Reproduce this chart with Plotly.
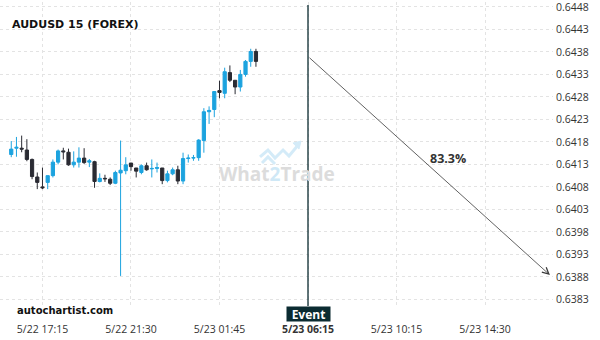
import pandas as pd
import plotly.graph_objects as go

# ---------------- data ----------------
title_text = "AUDUSD 15 (FOREX)"
bar_start = "2023-05-22 15:45"
bar_count = 48
open_ = [0.64152, 0.64166, 0.64166, 0.64162, 0.64141, 0.64102, 0.64080, 0.64090, 0.64105, 0.64135,
         0.64160, 0.64157, 0.64129, 0.64135, 0.64144, 0.64135, 0.64136, 0.64092, 0.64099, 0.64097,
         0.64088, 0.64111, 0.64116, 0.64133, 0.64122, 0.64112, 0.64127, 0.64120, 0.64121, 0.64122,
         0.64094, 0.64109, 0.64118, 0.64093, 0.64143, 0.64144, 0.64145, 0.64183, 0.64247, 0.64252,
         0.64294, 0.64288, 0.64334, 0.64317, 0.64302, 0.64330, 0.64359, 0.64381]
high = [0.64182, 0.64191, 0.64194, 0.64186, 0.64143, 0.64112, 0.64123, 0.64105, 0.64141, 0.64163,
        0.64167, 0.64165, 0.64159, 0.64168, 0.64166, 0.64142, 0.64138, 0.64110, 0.64107, 0.64101,
        0.64116, 0.64183, 0.64146, 0.64133, 0.64122, 0.64130, 0.64134, 0.64141, 0.64134, 0.64122,
        0.64116, 0.64123, 0.64127, 0.64156, 0.64152, 0.64151, 0.64186, 0.64255, 0.64259, 0.64292,
        0.64316, 0.64345, 0.64350, 0.64317, 0.64340, 0.64362, 0.64387, 0.64387]
low = [0.64146, 0.64147, 0.64157, 0.64137, 0.64097, 0.64075, 0.64075, 0.64075, 0.64101, 0.64130,
       0.64141, 0.64127, 0.64123, 0.64123, 0.64131, 0.64124, 0.64078, 0.64090, 0.64091, 0.64084,
       0.64086, 0.63882, 0.64108, 0.64116, 0.64101, 0.64108, 0.64116, 0.64101, 0.64112, 0.64086,
       0.64090, 0.64106, 0.64086, 0.64086, 0.64134, 0.64138, 0.64138, 0.64156, 0.64220, 0.64235,
       0.64277, 0.64277, 0.64313, 0.64286, 0.64292, 0.64325, 0.64347, 0.64347]
close = [0.64164, 0.64168, 0.64164, 0.64141, 0.64103, 0.64090, 0.64078, 0.64105, 0.64135, 0.64160,
         0.64158, 0.64129, 0.64135, 0.64144, 0.64134, 0.64138, 0.64092, 0.64099, 0.64098, 0.64088,
         0.64112, 0.64117, 0.64129, 0.64125, 0.64115, 0.64127, 0.64118, 0.64121, 0.64123, 0.64094,
         0.64109, 0.64118, 0.64093, 0.64143, 0.64144, 0.64145, 0.64184, 0.64247, 0.64250, 0.64292,
         0.64290, 0.64336, 0.64317, 0.64302, 0.64330, 0.64359, 0.64381, 0.64359]

x_range = ["2023-05-22 15:12:36", "2023-05-23 17:45:54"]
y_range = [0.638152, 0.644910]
y_ticks = [0.6383, 0.6388, 0.6393, 0.6398, 0.6403, 0.6408, 0.6413,
           0.6418, 0.6423, 0.6428, 0.6433, 0.6438, 0.6443, 0.6448]
x_tick_times = ["2023-05-22 17:15", "2023-05-22 21:30", "2023-05-23 01:45",
                "2023-05-23 06:00", "2023-05-23 10:15", "2023-05-23 14:30"]
x_tick_labels = ["5/22 17:15", "5/22 21:30", "5/23 01:45",
                 "<b>5/23 06:15</b>", "5/23 10:15", "5/23 14:30"]

event_time = "2023-05-23 06:00"
event_price = 0.64370
target_time = "2023-05-23 17:37"
target_price = 0.63884
probability_label = "83.3%"

# ---------------- figure ----------------
times = pd.date_range(bar_start, periods=bar_count, freq="15min")

BLUE = "#1ca3df"
DARK = "#2a2b33"
EVENT = "#0b2b31"

fig = go.Figure()
fig.add_trace(go.Candlestick(
    x=times, open=open_, high=high, low=low, close=close,
    increasing=dict(line=dict(color=BLUE, width=1), fillcolor=BLUE),
    decreasing=dict(line=dict(color=DARK, width=1), fillcolor=DARK),
    whiskerwidth=0, hoverinfo="skip", showlegend=False,
))

grid = dict(showgrid=True, gridcolor="#e3e3e3", gridwidth=1, griddash="3px,3px",
            zeroline=False, showline=False)

fig.update_layout(
    width=600, height=340,
    margin=dict(l=0, r=47, t=0, b=34),
    paper_bgcolor="white", plot_bgcolor="white",
    boxgap=0.12,
    font=dict(family="Open Sans", size=10.5, color="#333333"),
    xaxis=dict(type="date", range=x_range, rangeslider=dict(visible=False),
               tickmode="array", tickvals=x_tick_times, ticktext=x_tick_labels,
               ticks="", ticklabelstandoff=15, **grid),
    yaxis=dict(side="right", range=y_range, tickmode="array", tickvals=y_ticks,
               tickformat=".4f", ticks="", ticklabelstandoff=2,
               ticklabeloverflow="allow", **grid),
)

# event line
fig.add_shape(type="line", xref="x", yref="paper", x0=event_time, x1=event_time,
              y0=0, y1=0.99, line=dict(color=EVENT, width=1.3))

# forecast arrow
fig.add_annotation(x=target_time, y=target_price, ax=event_time, ay=event_price,
                   xref="x", yref="y", axref="x", ayref="y", text="",
                   showarrow=True, arrowhead=5, arrowsize=1.6, arrowwidth=0.8,
                   arrowcolor="#3a3a3a", standoff=0)
fig.add_annotation(x=448 / 553, y=1 - 158 / 306, xref="paper", yref="paper",
                   xanchor="center", yanchor="middle",
                   text="<b>" + probability_label + "</b>", showarrow=False,
                   font=dict(family="Open Sans", size=12.5, color="#333333"))

# title & branding
fig.add_annotation(x=10 / 553, y=1 - 14 / 306, xref="paper", yref="paper", xanchor="left",
                   text="<b>" + title_text + "</b>", showarrow=False,
                   font=dict(family="DejaVu Sans", size=11, color="#111111"))
fig.add_annotation(x=15 / 553, y=-5 / 306, xref="paper", yref="paper", xanchor="left",
                   yanchor="middle", text="<b>autochartist.com</b>", showarrow=False,
                   font=dict(family="DejaVu Sans", size=10, color="#111111"))
fig.add_annotation(x=event_time, y=0, xref="x", yref="paper", yanchor="top",
                   xanchor="center", width=41, height=12,
                   text="<b>Event</b>", showarrow=False, bgcolor=EVENT,
                   borderpad=1, font=dict(family="Open Sans", size=12, color="white"))

# watermark
fig.add_annotation(x=277 / 553, y=1 - 173 / 306, xref="paper", yref="paper",
                   xanchor="center", yanchor="middle",
                   text="<b>What<span style='color:#cfe8f6'>2</span>Trade</b>",
                   showarrow=False, font=dict(family="Open Sans", size=19, color="#dcdcdc"))

def px(xp, yp):
    return f"{xp / 553:.4f},{1 - yp / 306:.4f}"

logo = ("M " + px(260, 156) + " L " + px(268, 149) + " L " + px(275, 157) + " L " +
        px(283, 149) + " L " + px(289, 155) + " L " + px(299, 143))
fig.add_shape(type="path", xref="paper", yref="paper", path=logo,
              line=dict(color="#d4ebf8", width=3))
logo2 = ("M " + px(262, 162) + " L " + px(268, 156) + " L " + px(275, 163))
fig.add_shape(type="path", xref="paper", yref="paper", path=logo2,
              line=dict(color="#d4ebf8", width=3))
fig.add_shape(type="path", xref="paper", yref="paper",
              path="M " + px(293, 142) + " L " + px(301, 140) + " L " + px(299, 148) + " Z",
              fillcolor="#d4ebf8", line=dict(color="#d4ebf8", width=1))

fig.write_html("out.html")
